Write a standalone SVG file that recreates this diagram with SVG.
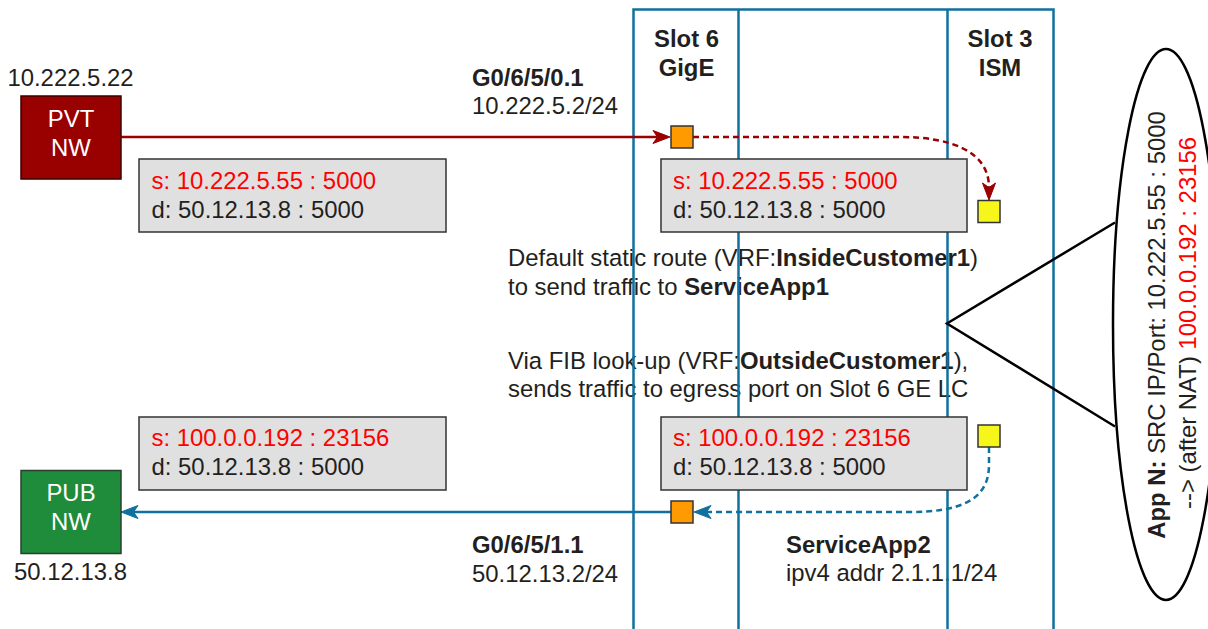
<svg xmlns="http://www.w3.org/2000/svg" width="1208" height="629" viewBox="0 0 1208 629">
<style>
text{font-family:"Liberation Sans",Arial,Helvetica,sans-serif;font-size:23.9px;fill:#231f20}
.b{font-weight:bold}
.w{fill:#ffffff}
.r{fill:#ff0000}
.mid{text-anchor:middle}
.col{fill:none;stroke:#10709e;stroke-width:2.5}
.pkt{fill:#e0e0e0;stroke:#333333;stroke-width:1.5}
.port{stroke:#333333;stroke-width:1.5}
.org{fill:#ff9a00}
.yel{fill:#f6f61a}
.red{fill:none;stroke:#990000;stroke-width:2.5}
.blu{fill:none;stroke:#10709e;stroke-width:2.5}
.dash{stroke-dasharray:6 4}
</style>
<defs>
<marker id="ar" markerUnits="userSpaceOnUse" markerWidth="18" markerHeight="14" refX="4.5" refY="6.5" orient="auto" overflow="visible">
<path d="M0,0 L17,6.5 L0,13 L4.5,6.5 Z" fill="#990000" stroke="#990000" stroke-width="1"/>
</marker>
<marker id="ab" markerUnits="userSpaceOnUse" markerWidth="18" markerHeight="14" refX="4.5" refY="6.5" orient="auto" overflow="visible">
<path d="M0,0 L17,6.5 L0,13 L4.5,6.5 Z" fill="#10709e" stroke="#10709e" stroke-width="1"/>
</marker>
</defs>

<g id="labels">
<text x="508" y="266">Default static route (VRF:<tspan class="b">InsideCustomer1</tspan>)</text>
<text x="508" y="294.5">to send traffic to <tspan class="b">ServiceApp1</tspan></text>
<text x="508" y="368.5">Via FIB look-up (VRF:<tspan class="b">OutsideCustomer1</tspan>),</text>
<text x="508" y="397">sends traffic to egress port on Slot 6 GE LC</text>
<text class="b" x="472" y="85.7">G0/6/5/0.1</text>
<text x="472" y="114">10.222.5.2/24</text>
<text class="b" x="472" y="552.7">G0/6/5/1.1</text>
<text x="472" y="581.7">50.12.13.2/24</text>
<text class="b" x="786" y="552.7">ServiceApp2</text>
<text x="786" y="581">ipv4 addr 2.1.1.1/24</text>
</g>

<g id="chassis">
<rect class="col" x="633.5" y="9.5" width="420" height="640"/>
<line class="col" x1="738.5" y1="9.5" x2="738.5" y2="640"/>
<line class="col" x1="947.5" y1="9.5" x2="947.5" y2="640"/>
<text class="b mid" x="686.5" y="46.7">Slot 6</text>
<text class="b mid" x="686.5" y="76">GigE</text>
<text class="b mid" x="1000" y="46.7">Slot 3</text>
<text class="b mid" x="1000" y="76">ISM</text>
</g>

<g id="connectors">
<path class="red" d="M121,137 L657.5,137" marker-end="url(#ar)"/>
<path class="red dash" d="M693,137 L900,137 C952,137 989,152 989,187.5" marker-end="url(#ar)"/>
<path class="blu dash" d="M989,447 L989,465 C989,500 960,512 910,512 L706.5,512" marker-end="url(#ab)"/>
<path class="blu" d="M671,512 L133.5,512" marker-end="url(#ab)"/>
<polyline points="1115,222.5 947,323.5 1115,426.5" fill="none" stroke="#000" stroke-width="2.5"/>
</g>

<g id="pvt">
<rect x="21" y="96" width="100" height="83" fill="#990000" stroke="#3a0000" stroke-width="1.5"/>
<text class="w mid" x="71" y="126.7">PVT</text>
<text class="w mid" x="71" y="155.7">NW</text>
<text class="mid" x="70.5" y="85.7">10.222.5.22</text>
</g>

<g id="pub">
<rect x="21" y="470.5" width="100" height="83" fill="#1e8c3a" stroke="#2a3f2f" stroke-width="1.5"/>
<text class="w mid" x="71" y="501">PUB</text>
<text class="w mid" x="71" y="530">NW</text>
<text class="mid" x="70.5" y="580">50.12.13.8</text>
</g>

<g id="pkt1">
<rect class="pkt" x="139" y="159" width="307" height="73"/>
<text class="r" x="151.5" y="188.5">s: 10.222.5.55 : 5000</text>
<text x="151.5" y="217.5">d: 50.12.13.8 : 5000</text>
</g>
<g id="pkt2">
<rect class="pkt" x="661" y="159" width="306" height="73"/>
<text class="r" x="673" y="188.5">s: 10.222.5.55 : 5000</text>
<text x="673" y="217.5">d: 50.12.13.8 : 5000</text>
</g>
<g id="pkt3">
<rect class="pkt" x="139" y="417" width="307" height="73"/>
<text class="r" x="151.5" y="445.7">s: 100.0.0.192 : 23156</text>
<text x="151.5" y="475">d: 50.12.13.8 : 5000</text>
</g>
<g id="pkt4">
<rect class="pkt" x="661" y="417" width="306" height="73"/>
<text class="r" x="673" y="445.7">s: 100.0.0.192 : 23156</text>
<text x="673" y="475">d: 50.12.13.8 : 5000</text>
</g>

<g id="port-in"><rect class="port org" x="671" y="126" width="22" height="22"/></g>
<g id="port-out"><rect class="port org" x="671" y="501" width="22" height="22"/></g>
<g id="ism-in"><rect class="port yel" x="978" y="200.5" width="22" height="22"/></g>
<g id="ism-out"><rect class="port yel" x="978" y="425" width="22" height="22"/></g>

<g id="appn">
<ellipse cx="1166" cy="324.5" rx="53" ry="275.5" fill="#ffffff" stroke="#000" stroke-width="2.5"/>
<text class="mid" transform="translate(1165,325) rotate(-90)"><tspan class="b">App N:</tspan> SRC IP/Port: 10.222.5.55 : 5000</text>
<text class="mid" transform="translate(1196,323) rotate(-90)">--&gt; (after NAT) <tspan class="r">100.0.0.192 : 23156</tspan></text>
</g>
</svg>
